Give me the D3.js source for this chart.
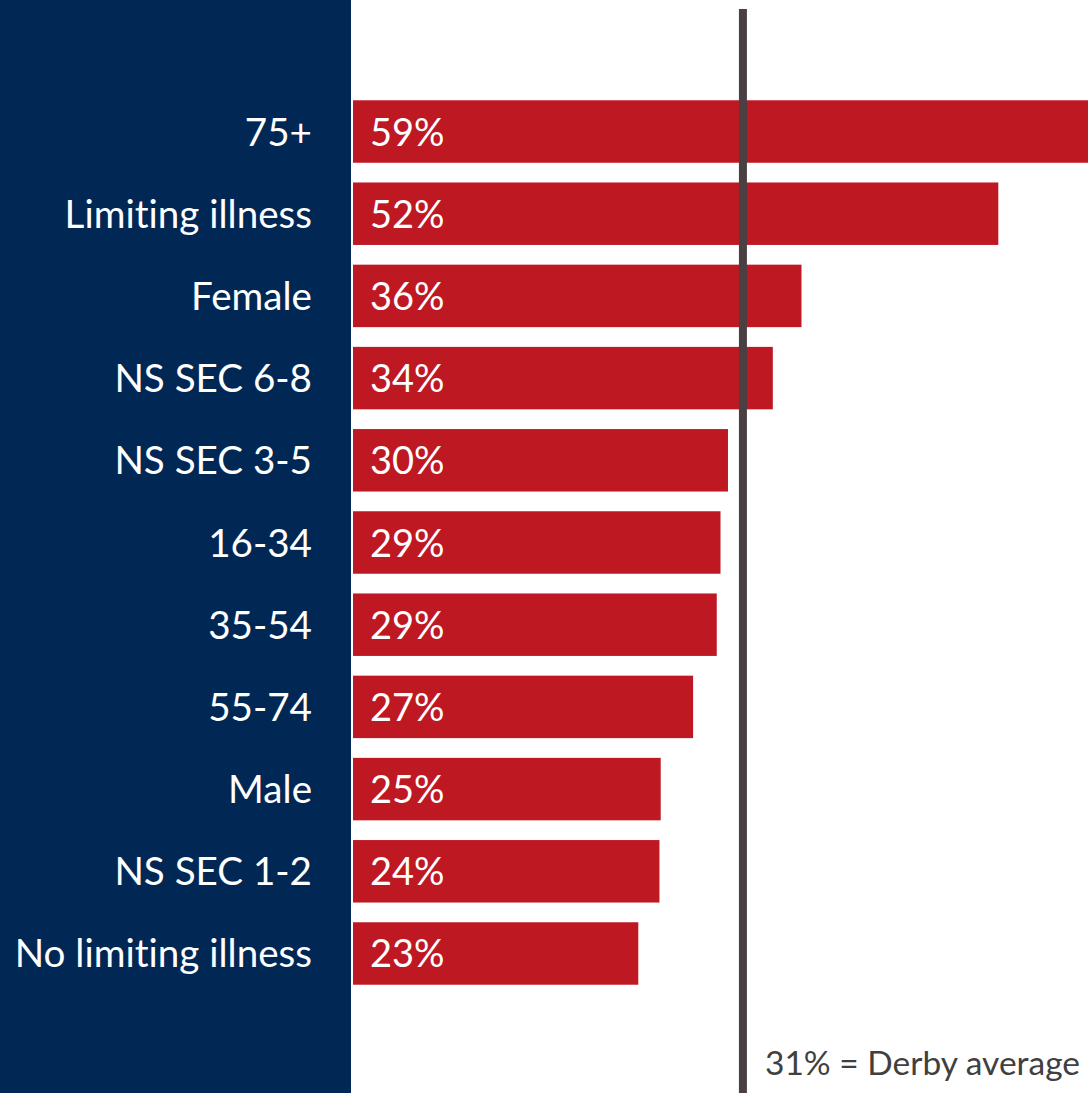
<!DOCTYPE html>
<html><head><meta charset="utf-8">
<script src="https://cdn.jsdelivr.net/npm/d3@7"></script>
<style>html,body{margin:0;padding:0;background:#fff;}svg{display:block;}text{font-variant-ligatures:none;font-kerning:normal;}</style>
</head><body>
<svg id="chart" width="1089" height="1093"></svg>
<script>
const categories = ["75+","Limiting illness","Female","NS SEC 6-8","NS SEC 3-5","16-34","35-54","55-74","Male","NS SEC 1-2","No limiting illness"];
const values = [59.0,51.8,36.0,33.7,30.1,29.5,29.2,27.3,24.7,24.6,22.9];
const valueLabels = ["59%","52%","36%","34%","30%","29%","29%","27%","25%","24%","23%"];
const average = 31.3;
const averageLabel = "31% = Derby average";

const W = 1089, H = 1093;
const svg = d3.select("#chart");
const font = "Lato, 'Open Sans', sans-serif";

const x = d3.scaleLinear().domain([0, 59]).range([353, 1088]);
const y = d3.scaleBand().domain(categories).range([60, 1025]).paddingInner(0.24).paddingOuter(0.49);

svg.append("rect").attr("x",0).attr("y",0).attr("width",351).attr("height",H).attr("fill","#012855");

svg.selectAll("rect.bar").data(categories).enter().append("rect")
  .attr("class","bar")
  .attr("x", x(0))
  .attr("y", d => y(d))
  .attr("width", (d,i) => x(values[i]) - x(0))
  .attr("height", y.bandwidth())
  .attr("fill","#be1823");

svg.selectAll("text.val").data(categories).enter().append("text")
  .attr("class","val")
  .attr("x", x(0) + 17)
  .attr("y", d => y(d) + y.bandwidth()/2 + 14)
  .attr("fill","#fff")
  .style("font-family",font).style("font-size","38px")
  .text((d,i) => valueLabels[i]);

svg.selectAll("text.cat").data(categories).enter().append("text")
  .attr("class","cat")
  .attr("x", 312)
  .attr("y", d => y(d) + y.bandwidth()/2 + 14)
  .attr("text-anchor","end")
  .attr("fill","#fff")
  .style("font-family",font).style("font-size","38.6px")
  .text(d => d);

svg.append("line")
  .attr("x1", x(average)).attr("x2", x(average))
  .attr("y1", 9).attr("y2", H)
  .attr("stroke","#4a4043").attr("stroke-width",8);

svg.append("text")
  .attr("x", 1080).attr("y", 1075)
  .attr("text-anchor","end")
  .attr("fill","#404040")
  .style("font-family",font).style("font-size","33.5px")
  .text(averageLabel);
</script>
</body></html>
